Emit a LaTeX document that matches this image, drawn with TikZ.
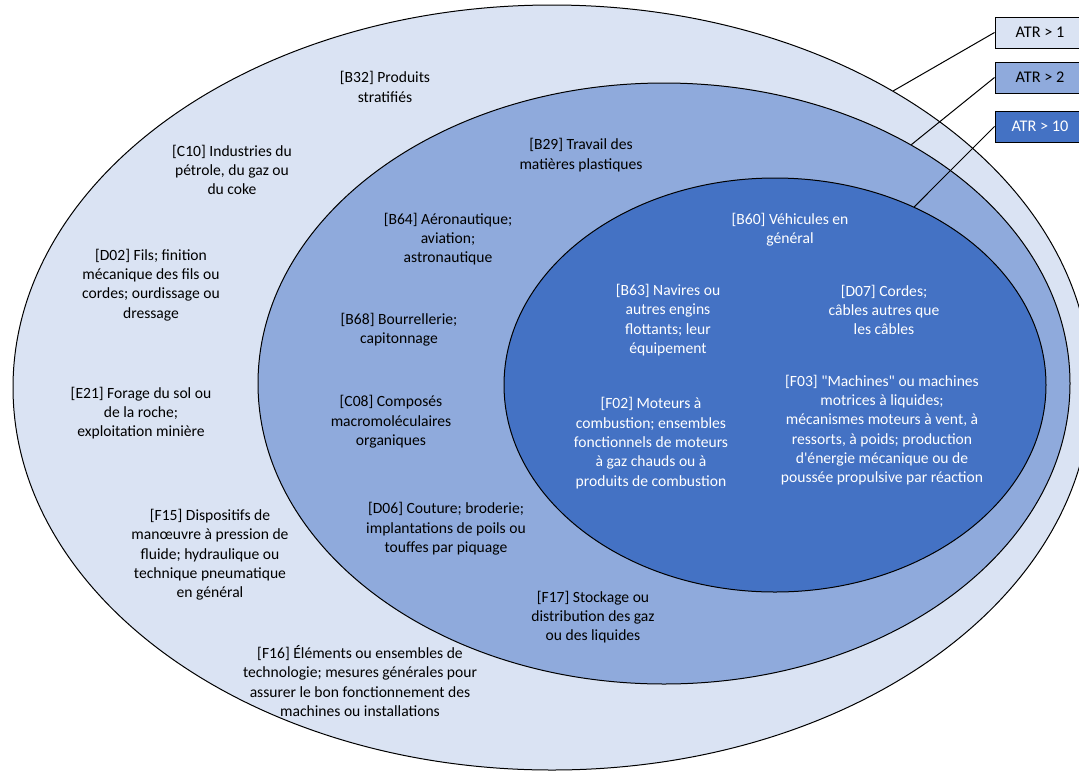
\documentclass[tikz,border=0pt]{standalone}
\usepackage{fontspec}
\newfontfamily\ringfont{Carlito}
\usetikzlibrary{shapes.geometric}
\definecolor{atrlow}{HTML}{DAE3F3}
\definecolor{atrmid}{HTML}{8FAADC}
\definecolor{atrhigh}{HTML}{4472C4}
\begin{document}
\begin{tikzpicture}[x=0.75pt, y=-0.75pt,
  ring/.style={draw, ellipse, inner sep=0pt, line width=0.75pt},
  lbl/.style={align=center, inner sep=0pt, font=\ringfont\fontsize{11.7}{14.5}\selectfont},
  lblw/.style={lbl, text=white},
  atrbox/.style={draw, line width=0.75pt, inner sep=0pt, minimum width=67.5pt,
    minimum height=23.25pt, font=\ringfont\fontsize{12.2}{14}\selectfont}]
\useasboundingbox (0,0) rectangle (1079,772);

% three nested rings
\node[ring, fill=atrlow, minimum width=808.5pt, minimum height=573.75pt] (ring1) at (552,387.5) {};
\node[ring, fill=atrmid, minimum width=609pt, minimum height=450.75pt] (ring2) at (664,383.5) {};
\node[ring, fill=atrhigh, minimum width=406.5pt, minimum height=310.5pt] (ring3) at (775,385) {};

% ATR > 1
\node[lbl] (b32) at (385,87) {[B32] Produits\\stratifiés};
\node[lbl] (c10) at (232,170) {[C10] Industries du\\pétrole, du gaz ou\\du coke};
\node[lbl] (d02) at (151,285) {[D02] Fils; finition\\mécanique des fils ou\\cordes; ourdissage ou\\dressage};
\node[lbl] (e21) at (141,413) {[E21] Forage du sol ou\\de la roche;\\exploitation minière};
\node[lbl] (f15) at (210,555) {[F15] Dispositifs de\\manœuvre à pression de\\fluide; hydraulique ou\\technique pneumatique\\en général};
\node[lbl] (f16) at (360,681) {[F16] Éléments ou ensembles de\\technologie; mesures générales pour\\assurer le bon fonctionnement des\\machines ou installations};

% ATR > 2
\node[lbl] (b29) at (581,155) {[B29] Travail des\\matières plastiques};
\node[lbl] (b64) at (448,239) {[B64] Aéronautique;\\aviation;\\astronautique};
\node[lbl] (b68) at (399,330) {[B68] Bourrellerie;\\capitonnage};
\node[lbl] (c08) at (391,422) {[C08] Composés\\macromoléculaires\\organiques};
\node[lbl] (d06) at (446,529) {[D06] Couture; broderie;\\implantations de poils ou\\touffes par piquage};
\node[lbl] (f17) at (593,617) {[F17] Stockage ou\\distribution des gaz\\ou des liquides};

% ATR > 10
\node[lblw] (b60) at (790,230) {[B60] Véhicules en\\général};
\node[lblw] (b63) at (668,320) {[B63] Navires ou\\autres engins\\flottants; leur\\équipement};
\node[lblw] (d07) at (884,310) {[D07] Cordes;\\câbles autres que\\les câbles};
\node[lblw] (f02) at (651,443) {[F02] Moteurs à\\combustion; ensembles\\fonctionnels de moteurs\\à gaz chauds ou à\\produits de combustion};
\node[lblw] (f03) at (882,430) {[F03] "Machines" ou machines\\motrices à liquides;\\mécanismes moteurs à vent, à\\ressorts, à poids; production\\d'énergie mécanique ou de\\poussée propulsive par réaction};

% legend
\node[atrbox, fill=atrlow] (key1) at (1040,32.5) {ATR > 1};
\node[atrbox, fill=atrmid] (key2) at (1040,77.5) {ATR > 2};
\node[atrbox, fill=atrhigh, text=white] (key3) at (1040,126.5) {ATR > 10};

\draw[line width=0.75pt] (key1.west) -- (ring1.41.6);
\draw[line width=0.75pt] (key2.west) -- (ring2.44.8);
\draw[line width=0.75pt] (key3.west) -- (ring3.52.1);

\end{tikzpicture}
\end{document}
